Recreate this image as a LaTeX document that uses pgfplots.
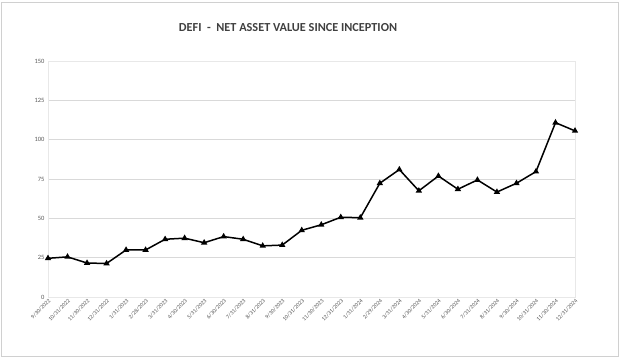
\documentclass[border=0pt]{standalone}
\usepackage{pgfplots}
\pgfplotsset{compat=1.18}
\usepackage{fontspec}
\setmainfont{Carlito}
\definecolor{gridc}{HTML}{D9D9D9}
\definecolor{boxc}{HTML}{E8E8E8}
\definecolor{tickc}{HTML}{595959}
\definecolor{titlec}{HTML}{404040}
\definecolor{framec}{HTML}{D0D0D0}
\begin{document}
\begin{tikzpicture}[x=1bp,y=1bp]
\path[use as bounding box] (0,0) rectangle (624,358);
\draw[framec, line width=0.8bp] (1,2) rectangle (618,356);
\node[text=titlec, font=\fontsize{12.3}{14}\selectfont\bfseries] at (288,330) {DEFI\ \ -\ \ NET ASSET VALUE SINCE INCEPTION};
\begin{axis}[
  at={(48bp,61bp)}, anchor=south west, scale only axis,
  width=527bp, height=236bp,
  xmin=0, xmax=27, ymin=0, ymax=150,
  ytick={0,25,50,75,100,125,150},
  xtick={0,...,27},
  xticklabels={9/30/2022,10/31/2022,11/30/2022,12/31/2022,1/31/2023,2/28/2023,3/31/2023,4/30/2023,5/31/2023,6/30/2023,7/31/2023,8/31/2023,9/30/2023,10/31/2023,11/30/2023,12/31/2023,1/31/2024,2/29/2024,3/31/2024,4/30/2024,5/31/2024,6/30/2024,7/31/2024,8/31/2024,9/30/2024,10/31/2024,11/30/2024,12/31/2024},
  xticklabel style={rotate=45, anchor=north east, font=\fontsize{5.8}{7}\selectfont, text=tickc, inner sep=1bp},
  yticklabel style={font=\fontsize{6.5}{7}\selectfont, text=tickc},
  /pgf/number format/assume math mode=true,
  ymajorgrids, grid style={gridc, line width=0.8bp},
  axis line style={boxc, line width=0.8bp},
  tick style={draw=none},
  xtick pos=bottom, ytick pos=left,
  clip=false,
]
\addplot[black, line width=1.5bp, mark=triangle*, mark size=2.2bp, mark options={solid}] coordinates {
(0,24.6) (1,25.5) (2,21.6) (3,21.3) (4,29.9) (5,29.9) (6,36.7) (7,37.4) (8,34.5) (9,38.4)
(10,36.7) (11,32.5) (12,33.0) (13,42.4) (14,45.9) (15,50.7) (16,50.4) (17,72.3) (18,81.0) (19,67.5)
(20,76.9) (21,68.5) (22,74.4) (23,66.7) (24,72.3) (25,79.7) (26,110.8) (27,105.6)
};
\end{axis}
\end{tikzpicture}
\end{document}
